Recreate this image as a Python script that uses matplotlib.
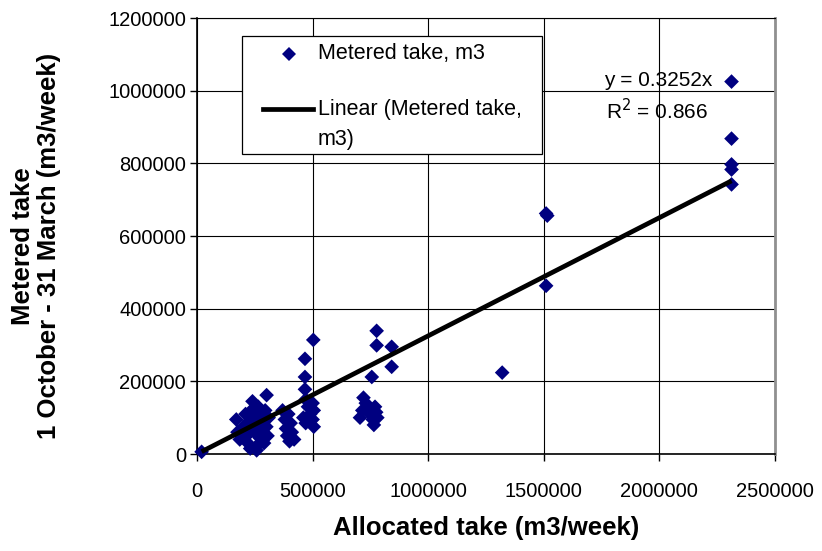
import matplotlib
matplotlib.use("Agg")
import matplotlib.pyplot as plt
from matplotlib.lines import Line2D
from matplotlib.patches import Rectangle
import numpy as np

plt.rcParams['font.family'] = ['Liberation Sans', 'DejaVu Sans']

# Allocated take (m3/week) and metered take (m3) per consent
allocated = [
    20000,
    170000, 175000, 185000, 200000, 210000, 215000, 220000, 225000, 230000,
    235000, 240000, 245000, 250000, 255000, 258000, 260000, 265000, 270000,
    275000, 280000, 285000, 290000, 295000, 300000, 301000, 305000, 310000,
    370000, 380000, 385000, 390000, 395000, 400000, 405000, 410000, 420000,
    460000, 467000, 467000, 467000, 470000, 470000, 480000, 490000, 500000,
    500000, 503000, 505000, 505000,
    705000, 715000, 720000, 730000, 740000, 750000, 756000, 760000, 765000,
    770000, 775000, 777000, 777000, 780000, 842000, 842000,
    1320000, 1510000, 1515000, 1510000,
    2312000, 2312000, 2312000, 2312000, 2312000,
]
metered = [
    6000,
    95000, 60000, 40000, 75000, 110000, 50000, 30000, 90000, 15000,
    120000, 145000, 65000, 100000, 20000, 10000, 80000, 130000, 45000,
    110000, 60000, 90000, 30000, 120000, 75000, 162000, 50000, 100000,
    120000, 95000, 70000, 50000, 110000, 35000, 85000, 60000, 40000,
    100000, 262000, 212000, 178000, 150000, 85000, 130000, 110000, 140000,
    95000, 314000, 120000, 75000,
    100000, 120000, 155000, 140000, 125000, 110000, 212000, 95000, 80000,
    130000, 115000, 339000, 299000, 100000, 295000, 240000,
    224000, 662000, 656000, 463000,
    1025000, 868000, 797000, 783000, 742000,
]
slope = 0.3252
r_squared = 0.866

x_ticks = [0, 500000, 1000000, 1500000, 2000000, 2500000]
y_ticks = [0, 200000, 400000, 600000, 800000, 1000000, 1200000]

W, H = 822, 551


def fx(px):
    return px / W


def fy(py):
    return 1 - py / H


fig = plt.figure(figsize=(W / 100, H / 100), dpi=100)
ax = fig.add_axes([fx(197), fy(454), (775 - 197) / W, (454 - 18) / H])

navy = '#000080'
ax.scatter(allocated, metered, marker='D', s=56, color=navy, edgecolors='none',
           zorder=3, clip_on=False)

xfit = np.array([min(allocated), max(allocated)])
ax.plot(xfit, slope * xfit, color='black', lw=3.4, solid_capstyle='butt', zorder=4)

ax.set_xlim(0, 2500000)
ax.set_ylim(0, 1200000)
ax.set_xticks(x_ticks)
ax.set_yticks(y_ticks)
ax.set_xticklabels([str(v) for v in x_ticks])
ax.set_yticklabels([str(v) for v in y_ticks])
ax.tick_params(axis='both', direction='out', length=5, width=1, labelsize=14.5,
               color='black')
ax.tick_params(axis='x', pad=15)
ax.tick_params(axis='y', pad=3)

ax.grid(True, color='black', lw=0.8)
ax.set_axisbelow(True)
for side in ('left', 'bottom'):
    ax.spines[side].set_color('black')
    ax.spines[side].set_linewidth(1.2)
ax.spines['top'].set_color('black')
ax.spines['top'].set_linewidth(0.8)
ax.spines['right'].set_color('#909090')
ax.spines['right'].set_linewidth(2.0)

ax.set_xlabel('Allocated take (m3/week)', fontsize=18.5, fontweight='bold')
ax.xaxis.set_label_coords(0.5, (454 - 516) / 436)
fig.text(fx(36), fy(246), 'Metered take\n1 October - 31 March (m3/week)',
         rotation=90, ha='center', va='center', fontsize=18.5, fontweight='bold',
         linespacing=1.1)

# regression equation
fig.text(fx(712), fy(81), f'y = {slope}x', ha='right', va='center', fontsize=15)
fig.text(fx(657), fy(111), f'R$^2$ = {r_squared}', ha='center', va='center',
         fontsize=15)

# legend box
fig.add_artist(Rectangle((fx(242), fy(154)), (542 - 242) / W, (154 - 36) / H,
                         transform=fig.transFigure, facecolor='white',
                         edgecolor='black', lw=0.9, zorder=5))
fig.add_artist(Line2D([fx(289)], [fy(54)], marker='D', color=navy, ls='none',
                      markersize=7.6, markeredgewidth=0,
                      transform=fig.transFigure, zorder=6))
fig.text(fx(318), fy(54), 'Metered take, m3', ha='left', va='center',
         fontsize=15.5, zorder=6)
fig.add_artist(Line2D([fx(263), fx(313)], [fy(109), fy(109)], color='black',
                      lw=3.4, transform=fig.transFigure, zorder=6))
fig.text(fx(318), fy(109), 'Linear (Metered take,', ha='left', va='center',
         fontsize=15.5, zorder=6)
fig.text(fx(318), fy(140), 'm3)', ha='left', va='center', fontsize=15.5, zorder=6)

fig.savefig('out.png', dpi=100)
